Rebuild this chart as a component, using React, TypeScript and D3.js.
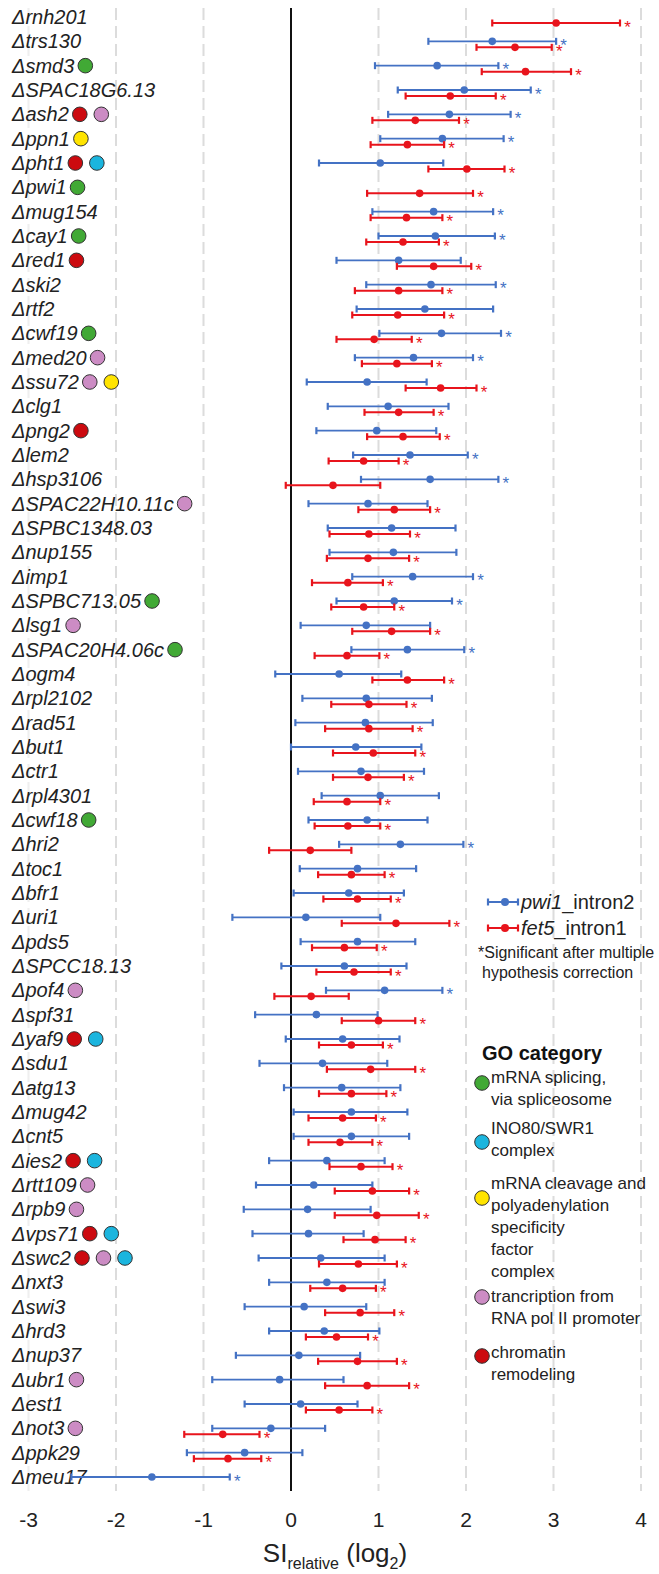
import React, { useMemo } from "react";
import * as d3 from "d3";

const W = 659;
const H = 1574;

const GENES = [
  "rnh201", "trs130", "smd3", "SPAC18G6.13", "ash2", "ppn1", "pht1", "pwi1", "mug154", "cay1",
  "red1", "ski2", "rtf2", "cwf19", "med20", "ssu72", "clg1", "png2", "lem2", "hsp3106",
  "SPAC22H10.11c", "SPBC1348.03", "nup155", "imp1", "SPBC713.05", "lsg1", "SPAC20H4.06c", "ogm4", "rpl2102", "rad51",
  "but1", "ctr1", "rpl4301", "cwf18", "hri2", "toc1", "bfr1", "uri1", "pds5", "SPCC18.13",
  "pof4", "spf31", "yaf9", "sdu1", "atg13", "mug42", "cnt5", "ies2", "rtt109", "rpb9",
  "vps71", "swc2", "nxt3", "swi3", "hrd3", "nup37", "ubr1", "est1", "not3", "ppk29",
  "meu17",
];

// GO codes per gene: S splicing, I INO80/SWR1, P cleavage/polyA, T transcription, C chromatin
const GO = [
  "", "", "S", "", "CT", "P", "CI", "S", "", "S",
  "C", "", "", "S", "T", "TP", "", "C", "", "",
  "T", "", "", "", "S", "T", "S", "", "", "",
  "", "", "", "S", "", "", "", "", "", "",
  "T", "", "CI", "", "", "", "", "CI", "T", "T",
  "CI", "CTI", "", "", "", "", "T", "", "T", "",
  "",
];

// pwi1_intron2 (blue)
const BLUE_MEAN = [
  null, 2.30, 1.67, 1.98, 1.81, 1.73, 1.02, null, 1.63, 1.65,
  1.23, 1.60, 1.53, 1.72, 1.40, 0.87, 1.11, 0.98, 1.36, 1.59,
  0.88, 1.15, 1.17, 1.39, 1.18, 0.86, 1.33, 0.55, 0.86, 0.85,
  0.74, 0.80, 1.02, 0.87, 1.25, 0.76, 0.66, 0.17, 0.76, 0.61,
  1.07, 0.29, 0.59, 0.36, 0.58, 0.69, 0.69, 0.41, 0.26, 0.19,
  0.20, 0.34, 0.41, 0.15, 0.38, 0.09, -0.13, 0.11, -0.23, -0.53,
  -1.59,
];
const BLUE_LO = [
  null, 1.57, 0.96, 1.22, 1.11, 1.02, 0.32, null, 0.93, 1.00,
  0.52, 0.86, 0.75, 1.01, 0.73, 0.18, 0.42, 0.29, 0.71, 0.80,
  0.20, 0.42, 0.44, 0.70, 0.52, 0.11, 0.69, -0.18, 0.13, 0.05,
  0.00, 0.08, 0.35, 0.20, 0.55, 0.10, 0.03, -0.67, 0.11, -0.11,
  0.40, -0.41, -0.06, -0.36, -0.08, 0.03, 0.03, -0.25, -0.40, -0.54,
  -0.44, -0.37, -0.25, -0.53, -0.25, -0.63, -0.90, -0.53, -0.90, -1.19,
  -2.51,
];
const BLUE_HI = [
  null, 3.03, 2.37, 2.74, 2.51, 2.43, 1.74, null, 2.31, 2.33,
  1.94, 2.34, 2.31, 2.40, 2.08, 1.55, 1.80, 1.66, 2.02, 2.37,
  1.56, 1.88, 1.89, 2.08, 1.84, 1.59, 1.98, 1.26, 1.61, 1.62,
  1.49, 1.52, 1.69, 1.56, 1.97, 1.43, 1.29, 1.02, 1.42, 1.32,
  1.73, 0.99, 1.24, 1.10, 1.25, 1.33, 1.35, 1.07, 0.93, 0.91,
  0.83, 1.07, 1.07, 0.86, 1.01, 0.79, 0.60, 0.76, 0.39, 0.13,
  -0.70,
];
const BLUE_SIG = [
  0, 1, 1, 1, 1, 1, 0, 0, 1, 1,
  0, 1, 0, 1, 1, 0, 0, 0, 1, 1,
  0, 0, 0, 1, 1, 0, 1, 0, 0, 0,
  0, 0, 0, 0, 1, 0, 0, 0, 0, 0,
  1, 0, 0, 0, 0, 0, 0, 0, 0, 0,
  0, 0, 0, 0, 0, 0, 0, 0, 0, 0,
  1,
];

// fet5_intron1 (red)
const RED_MEAN = [
  3.03, 2.56, 2.68, 1.82, 1.42, 1.33, 2.01, 1.47, 1.32, 1.28,
  1.63, 1.23, 1.22, 0.95, 1.21, 1.71, 1.23, 1.28, 0.83, 0.48,
  1.18, 0.89, 0.88, 0.65, 0.83, 1.15, 0.64, 1.33, 0.89, 0.89,
  0.94, 0.88, 0.64, 0.65, 0.22, 0.69, 0.76, 1.20, 0.61, 0.72,
  0.23, 1.00, 0.69, 0.91, 0.69, 0.59, 0.56, 0.80, 0.93, 0.98,
  0.96, 0.77, 0.59, 0.79, 0.52, 0.76, 0.87, 0.55, -0.78, -0.72,
  null,
];
const RED_LO = [
  2.30, 2.12, 2.18, 1.31, 0.93, 0.91, 1.57, 0.87, 0.91, 0.86,
  1.21, 0.73, 0.70, 0.52, 0.81, 1.31, 0.84, 0.87, 0.43, -0.06,
  0.77, 0.44, 0.41, 0.24, 0.46, 0.70, 0.27, 0.93, 0.46, 0.39,
  0.48, 0.48, 0.26, 0.27, -0.25, 0.31, 0.37, 0.58, 0.24, 0.29,
  -0.19, 0.58, 0.32, 0.41, 0.32, 0.20, 0.20, 0.44, 0.50, 0.50,
  0.60, 0.32, 0.22, 0.39, 0.17, 0.31, 0.39, 0.17, -1.22, -1.11,
  null,
];
const RED_HI = [
  3.76, 2.98, 3.20, 2.34, 1.92, 1.75, 2.44, 2.08, 1.73, 1.69,
  2.06, 1.73, 1.75, 1.38, 1.61, 2.12, 1.63, 1.70, 1.23, 1.02,
  1.59, 1.36, 1.35, 1.05, 1.18, 1.59, 1.01, 1.75, 1.32, 1.39,
  1.42, 1.29, 1.02, 1.02, 0.69, 1.07, 1.14, 1.81, 0.98, 1.14,
  0.66, 1.42, 1.05, 1.42, 1.09, 0.97, 0.93, 1.16, 1.35, 1.46,
  1.31, 1.21, 0.97, 1.18, 0.88, 1.21, 1.35, 0.93, -0.36, -0.34,
  null,
];
const RED_SIG = [
  1, 1, 1, 1, 1, 1, 1, 1, 1, 1,
  1, 1, 1, 1, 1, 1, 1, 1, 1, 0,
  1, 1, 1, 1, 1, 1, 1, 1, 1, 1,
  1, 1, 1, 1, 0, 1, 1, 1, 1, 1,
  0, 1, 1, 1, 1, 1, 1, 1, 1, 1,
  1, 1, 1, 1, 1, 1, 1, 1, 1, 1,
  0,
];

const X_TICKS = [-3, -2, -1, 0, 1, 2, 3, 4];

const GO_CODES = ["S", "I", "P", "T", "C"];
const GO_COLORS: Record<string, string> = {
  S: "#41a935",
  I: "#1bb5de",
  P: "#ffe400",
  T: "#cc8cc4",
  C: "#cc0a0f",
};
const GO_LABELS: Record<string, string[]> = {
  S: ["mRNA splicing,", "via spliceosome"],
  I: ["INO80/SWR1", "complex"],
  P: ["mRNA cleavage and", "polyadenylation", "specificity", "factor", "complex"],
  T: ["trancription from", "RNA pol II promoter"],
  C: ["chromatin", "remodeling"],
};

const BLUE = "#4472c4";
const RED = "#e8141c";
const FONT = "'Liberation Sans', Arial, sans-serif";

function ErrBar({ y, lo, mean, hi, sig, color, x, lw }: any) {
  return (
    <g>
      <line x1={x(lo)} x2={x(hi)} y1={y} y2={y} stroke={color} strokeWidth={lw} />
      <line x1={x(lo)} x2={x(lo)} y1={y - 3.5} y2={y + 3.5} stroke={color} strokeWidth={2.2} />
      <line x1={x(hi)} x2={x(hi)} y1={y - 3.5} y2={y + 3.5} stroke={color} strokeWidth={2.2} />
      <circle cx={x(mean)} cy={y} r={3.8} fill={color} />
      {sig ? (
        <text x={x(hi) + 7.5} y={y + 9.5} fontSize={17} fill={color} textAnchor="middle" fontFamily={FONT}>
          *
        </text>
      ) : null}
    </g>
  );
}

export default function App() {
  const x = d3.scaleLinear().domain([-3, 4]).range([28.5, 641]);
  const y = d3.scalePoint<string>().domain(GENES).range([20, 1480]);

  const labelWidths = useMemo(() => {
    const ctx = document.createElement("canvas").getContext("2d")!;
    ctx.font = `italic 20px 'Liberation Sans', Arial, sans-serif`;
    return GENES.map((g) => ctx.measureText("\u0394" + g).width);
  }, []);

  const labelX = 12;

  return (
    <svg
      width={W}
      height={H}
      style={{ position: "absolute", left: 0, top: 0, background: "#fff", display: "block" }}
      fontFamily={FONT}
    >
      {/* grid */}
      {X_TICKS.filter((t) => t !== 0).map((t) => (
        <line
          key={t}
          x1={x(t)}
          x2={x(t)}
          y1={8}
          y2={1491}
          stroke="#dcdcdc"
          strokeWidth={2}
          strokeDasharray="12,6"
          opacity={t === -3 ? 0.45 : 1}
        />
      ))}

      {/* gene labels + GO dots */}
      {GENES.map((g, i) => {
        const cy = y(g)!;
        const codes = GO[i].split("").filter(Boolean);
        return (
          <g key={g}>
            <text x={labelX} y={cy + 4} fontSize={20} fontStyle="italic" fill="#222">
              {"\u0394" + g}
            </text>
            {codes.map((c, k) => (
              <circle
                key={c}
                cx={labelX + labelWidths[i] + 11 + k * 21.5}
                cy={cy - 3}
                r={7.3}
                fill={GO_COLORS[c]}
                stroke="#333"
                strokeWidth={1}
              />
            ))}
          </g>
        );
      })}

      {/* zero line */}
      <line x1={x(0)} x2={x(0)} y1={8} y2={1491} stroke="#111" strokeWidth={2} />

      {/* error bars */}
      {GENES.map((g, i) => {
        const cy = y(g)!;
        return (
          <g key={g}>
            {BLUE_MEAN[i] !== null && (
              <ErrBar
                y={cy - 3}
                lo={BLUE_LO[i]}
                mean={BLUE_MEAN[i]}
                hi={BLUE_HI[i]}
                sig={BLUE_SIG[i]}
                color={BLUE}
                x={x}
                lw={1.8}
              />
            )}
            {RED_MEAN[i] !== null && (
              <ErrBar
                y={cy + 3}
                lo={RED_LO[i]}
                mean={RED_MEAN[i]}
                hi={RED_HI[i]}
                sig={RED_SIG[i]}
                color={RED}
                x={x}
                lw={2}
              />
            )}
          </g>
        );
      })}

      {/* x tick labels */}
      {X_TICKS.map((t) => (
        <text key={t} x={x(t)} y={1527} fontSize={21} textAnchor="middle" fill="#222">
          {t}
        </text>
      ))}

      {/* axis title */}
      <text x={335} y={1562} textAnchor="middle" fill="#222" fontSize={26}>
        <tspan>SI</tspan>
        <tspan fontSize={16} dy={7}>relative</tspan>
        <tspan dy={-7}> (log</tspan>
        <tspan fontSize={16} dy={7}>2</tspan>
        <tspan dy={-7}>)</tspan>
      </text>

      {/* series legend */}
      {[
        { c: BLUE, it: "pwi1", rest: "_intron2", yy: 902 },
        { c: RED, it: "fet5", rest: "_intron1", yy: 928 },
      ].map((s) => (
        <g key={s.it}>
          <line x1={488} x2={518} y1={s.yy} y2={s.yy} stroke={s.c} strokeWidth={2} />
          <line x1={488} x2={488} y1={s.yy - 3.5} y2={s.yy + 3.5} stroke={s.c} strokeWidth={2.2} />
          <line x1={518} x2={518} y1={s.yy - 3.5} y2={s.yy + 3.5} stroke={s.c} strokeWidth={2.2} />
          <circle cx={505} cy={s.yy} r={4} fill={s.c} />
          <text x={521} y={s.yy + 7} fontSize={20} fill="#222">
            <tspan fontStyle="italic">{s.it}</tspan>
            <tspan>{s.rest}</tspan>
          </text>
        </g>
      ))}
      <text x={478} y={958} fontSize={16} fill="#222">*Significant after multiple</text>
      <text x={482} y={978} fontSize={16} fill="#222">hypothesis correction</text>

      {/* GO legend */}
      <text x={482} y={1060} fontSize={20} fontWeight="bold" fill="#111">GO category</text>
      {GO_CODES.map((c) => {
        const pos: Record<string, [number, number]> = {
          S: [1083, 1083],
          I: [1142, 1134],
          P: [1198, 1189],
          T: [1297, 1302],
          C: [1356, 1358],
        };
        const [cy, by] = pos[c];
        return (
          <g key={c}>
            <circle cx={482} cy={cy} r={7.3} fill={GO_COLORS[c]} stroke="#333" strokeWidth={1} />
            {GO_LABELS[c].map((l, k) => (
              <text key={k} x={491} y={by + k * 22} fontSize={17} fill="#222">
                {l}
              </text>
            ))}
          </g>
        );
      })}
    </svg>
  );
}
